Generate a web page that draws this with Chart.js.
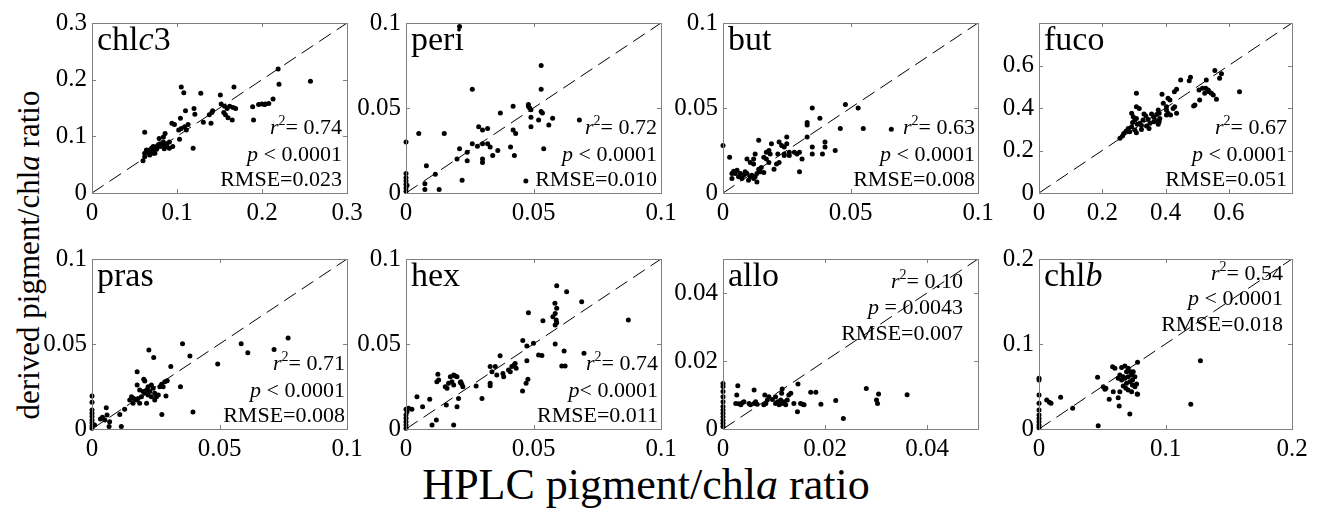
<!DOCTYPE html>
<html>
<head>
<meta charset="utf-8">
<script src="https://cdn.jsdelivr.net/npm/chart.js@4.4.1/dist/chart.umd.min.js"></script>
<style>
body { margin: 0; background: #fff; width: 1320px; height: 510px; position: relative; overflow: hidden;
       font-family: "Liberation Serif", "Times New Roman", serif; color: #000; }
canvas { position: absolute; }
#ytitle { position: absolute; left: 29px; top: 255px; transform: translate(-50%, -50%) rotate(-90deg);
          font-size: 31px; white-space: nowrap; color: #000; -webkit-font-smoothing: antialiased; }
#xtitle { position: absolute; left: 646px; top: 484px; transform: translate(-50%, -50%);
          font-size: 44px; white-space: nowrap; color: #000; }
</style>
</head>
<body>
<div id="ytitle">derived pigment/chl<i>a</i> ratio</div>
<div id="xtitle">HPLC pigment/chl<i>a</i> ratio</div>
<script>
// [HPLC ratio, derived ratio]
const chlc3Data = [[0.105,0.187],[0.108,0.177],[0.128,0.176],[0.151,0.173],[0.167,0.187],
  [0.152,0.157],[0.156,0.153],[0.159,0.149],[0.162,0.153],[0.166,0.151],[0.169,0.149],[0.155,0.142],[0.157,0.138],[0.160,0.133],[0.165,0.129],
  [0.120,0.149],[0.121,0.139],[0.110,0.145],[0.138,0.138],[0.141,0.142],[0.142,0.145],[0.131,0.125],[0.140,0.123],
  [0.104,0.132],[0.094,0.123],[0.097,0.121],[0.113,0.121],[0.109,0.117],[0.111,0.111],[0.105,0.114],[0.102,0.111],
  [0.062,0.107],[0.079,0.096],[0.086,0.105],[0.084,0.099],[0.103,0.095],[0.119,0.079],
  [0.091,0.090],[0.088,0.087],[0.084,0.090],[0.080,0.087],[0.076,0.082],[0.072,0.082],[0.068,0.076],[0.064,0.076],[0.062,0.070],[0.068,0.070],
  [0.072,0.076],[0.076,0.077],[0.080,0.082],[0.084,0.085],[0.088,0.082],[0.091,0.079],[0.095,0.082],[0.062,0.064],[0.060,0.057],[0.068,0.067],
  [0.072,0.070],[0.066,0.072],[0.070,0.079],[0.074,0.070],[0.078,0.085],[0.085,0.078],
  [0.189,0.152],[0.196,0.156],[0.203,0.156],[0.190,0.129],[0.219,0.219],[0.220,0.192],[0.257,0.197],[0.213,0.166],[0.208,0.158],[0.204,0.157],[0.200,0.157]];
const periData = [[0.021,0.098],[0.053,0.075],[0.026,0.061],[0.053,0.061],[0.005,0.035],[0,0.030],[0.015,0.035],[0.037,0.047],[0.042,0.051],
  [0.048,0.051],[0.0485,0.050],[0.048,0.052],[0.049,0.049],[0.053,0.048],[0.0535,0.047],[0.049,0.0445],[0.052,0.043],[0.049,0.039],[0.056,0.040],[0.0575,0.044],
  [0.0285,0.039],[0.032,0.038],[0.042,0.037],[0.043,0.035],[0.041,0.027],[0.0425,0.022],[0.054,0.026],[0.068,0.043],
  [0.030,0.037],[0.026,0.029],[0.028,0.0275],[0.030,0.029],[0.032,0.029],[0.033,0.027],[0.034,0.022],[0.036,0.025],[0.030,0.020],[0.030,0.018],
  [0.024,0.019],[0.021,0.026],[0.020,0.020],[0.024,0.024],[0.022,0.0075],[0.008,0.016],[0.0115,0.011],[0.0074,0.0055],[0.0074,0.002],[0.013,0.002],[0.047,0.007],
  [0,0.0114],[0,0.009],[0,0.007],[0,0.005],[0,0.003],[0,0.001],[0.0004,0.0045]];
const butData = [[0,0.028],[0.035,0.050],[0.048,0.052],[0.053,0.050],[0.038,0.044],[0.033,0.0415],[0.033,0.040],[0.046,0.038],[0.055,0.038],[0.066,0.0375],
  [0.033,0.033],[0.035,0.027],[0.035,0.023],[0.040,0.030],[0.040,0.027],[0.039,0.023],[0.044,0.025],[0.030,0.0125],[0.031,0.020],
  [0.028,0.024],[0.029,0.023],[0.030,0.024],[0.026,0.024],[0.025,0.033],[0.025,0.029],[0.024,0.027],[0.024,0.023],[0.024,0.022],[0.026,0.022],
  [0.022,0.030],[0.023,0.028],[0.0215,0.023],[0.022,0.018],[0.020,0.014],[0.021,0.017],
  [0.019,0.029],[0.018,0.025],[0.0185,0.023],[0.017,0.024],[0.017,0.020],[0.018,0.018],[0.016,0.021],[0.014,0.031],[0.012,0.020],[0.0126,0.023],
  [0.0094,0.020],[0.0107,0.018],[0.012,0.017],[0.014,0.014],[0.0146,0.0125],[0.0133,0.0115],[0.016,0.012],[0.015,0.015],
  [0.0035,0.0085],[0.0035,0.0115],[0.0055,0.0134],[0.0068,0.0115],[0.0081,0.0105],[0.0094,0.0115],[0.0107,0.0095],[0.012,0.0085],[0.0133,0.0065],
  [0.0061,0.0095],[0.0074,0.0085],[0.0087,0.0125],[0.010,0.0075],[0.0113,0.0105],[0.0126,0.0095],[0.0048,0.0115],[0.0026,0.021],[0.0042,0.0128]];
const fucoData = [[0.308,0.469],[0.389,0.465],[0.448,0.532],[0.475,0.528],[0.479,0.545],[0.435,0.488],[0.428,0.476],[0.506,0.485],[0.556,0.576],
  [0.577,0.561],[0.571,0.540],[0.529,0.532],[0.634,0.477],
  [0.517,0.493],[0.527,0.493],[0.535,0.485],[0.545,0.469],[0.551,0.461],[0.561,0.441],[0.538,0.477],[0.524,0.469],[0.508,0.438],[0.493,0.414],[0.489,0.409],
  [0.408,0.446],[0.414,0.438],[0.393,0.422],[0.403,0.406],[0.377,0.391],[0.372,0.370],[0.380,0.375],[0.435,0.375],[0.308,0.406],[0.317,0.398],
  [0.293,0.375],[0.298,0.359],[0.303,0.343],[0.296,0.332],[0.308,0.351],[0.311,0.324],[0.319,0.328],[0.293,0.312],[0.282,0.304],[0.275,0.291],
  [0.268,0.280],[0.264,0.268],[0.256,0.258],[0.287,0.288],[0.303,0.296],[0.308,0.283],[0.324,0.299],[0.340,0.315],[0.351,0.328],[0.363,0.335],
  [0.345,0.346],[0.338,0.362],[0.332,0.372],[0.356,0.372],[0.363,0.356],[0.372,0.340],[0.382,0.351],[0.329,0.343],[0.324,0.318],[0.348,0.304],
  [0.377,0.324],[0.380,0.335],[0.403,0.391],[0.408,0.375],[0.416,0.367],[0.424,0.398],[0.429,0.406],[0.403,0.367]];
const prasData = [[0,0.0194],[0,0.0157],[0,0.0112],[0,0.0092],[0,0.0073],[0,0.0053],[0,0.0037],[0,0.0018],[0,0.0004],[0.001,0.0024],
  [0.0033,0.0059],[0.0041,0.0069],[0.0056,0.0125],[0.0059,0.0082],[0.005,0.0053],[0.0069,0.0043],[0.0067,0.0014],[0.0109,0.0086],[0.0115,0.0014],[0.0128,0.0116],
  [0.0223,0.0465],[0.0242,0.042],[0.0355,0.0502],[0.0384,0.0429],[0.0309,0.0367],[0.0493,0.0382],[0.0585,0.0502],[0.0611,0.0449],[0.0714,0.0467],[0.0769,0.0535],
  [0.0347,0.0249],[0.0396,0.010],[0.0274,0.0086],[0.029,0.0194],
  [0.0177,0.0337],[0.0203,0.0292],[0.0207,0.0282],[0.0177,0.0259],[0.0187,0.0229],[0.0273,0.0263],[0.0286,0.0278],[0.0295,0.0284],[0.0279,0.0249],[0.0266,0.0249],
  [0.022,0.0249],[0.0233,0.0259],[0.024,0.0239],[0.0227,0.022],[0.0246,0.021],[0.0253,0.019],[0.0214,0.0229],[0.0201,0.022],[0.0207,0.021],[0.0194,0.019],
  [0.0181,0.018],[0.0174,0.0171],[0.0161,0.0151],[0.0148,0.0171],[0.0155,0.019],[0.0164,0.018],[0.0187,0.0151],[0.0214,0.0151],[0.022,0.020],[0.0233,0.019],
  [0.026,0.020],[0.0246,0.0171]];
const hexData = [[0.0591,0.0843],[0.063,0.0808],[0.0689,0.0749],[0.0584,0.0739],[0.0591,0.071],[0.0585,0.068],[0.0576,0.0661],[0.0591,0.0625],[0.0585,0.0612],
  [0.0589,0.0641],[0.048,0.0684],[0.0537,0.0637],[0.0872,0.0641],
  [0.0585,0.050],[0.050,0.0504],[0.0458,0.052],[0.0474,0.0488],[0.052,0.0435],[0.0533,0.0433],[0.062,0.0459],[0.0698,0.0445],[0.0611,0.0371],[0.0624,0.0371],
  [0.0474,0.0402],[0.0369,0.0431],
  [0.033,0.0367],[0.035,0.0367],[0.0337,0.0337],[0.033,0.0269],[0.033,0.0255],[0.0356,0.0318],[0.0383,0.0308],[0.038,0.0327],[0.0409,0.0337],[0.0415,0.0367],
  [0.0428,0.0386],[0.0432,0.0357],[0.0424,0.0376],[0.0402,0.0347],
  [0.0478,0.0292],[0.0471,0.0269],[0.0457,0.0224],[0.0298,0.018],[0.0275,0.0253],
  [0.0125,0.0322],[0.0121,0.0278],[0.0128,0.0288],[0.0174,0.0308],[0.018,0.0278],[0.0187,0.0259],[0.0193,0.0312],[0.0187,0.0318],[0.0154,0.0249],[0.0161,0.0239],
  [0.0167,0.0269],[0.020,0.0308],[0.0215,0.0278],[0.0219,0.0263],[0.0223,0.0249],[0.0213,0.0273],
  [0.0158,0.0141],[0.0206,0.018],[0.020,0.0131],[0.0187,0.0024],[0.0119,0.0053],[0.0102,0.0024],[0.0093,0.0175],[0.0043,0.019],[0.0065,0.0131],[0.0023,0.0116],
  [0.001,0.0122],[0.0004,0.0102],[0,0.0082],[0,0.0063],[0,0.0043],[0,0.0024],[0,0.0004],[0,0.0116]];
const alloData = [[0,0.0134],[0,0.0125],[0,0.011],[0,0.0095],[0,0.008],[0,0.0066],[0,0.0056],[0,0.0046],[0,0.0036],[0,0.0026],[0,0.0017],[0,0.0007],
  [0.0029,0.0127],[0.0027,0.010],[0.0025,0.0075],[0.0031,0.0074],[0.0038,0.0077],[0.0035,0.0071],[0.0041,0.008],
  [0.0061,0.0115],[0.0051,0.0075],[0.0061,0.0075],[0.0067,0.0073],[0.0054,0.0071],[0.0064,0.008],
  [0.0082,0.010],[0.0087,0.0085],[0.0084,0.0075],[0.009,0.0095],[0.008,0.0071],
  [0.0103,0.0095],[0.0107,0.008],[0.011,0.0071],[0.0103,0.0075],[0.0113,0.0085],[0.0116,0.0075],[0.012,0.008],[0.0097,0.0087],
  [0.0116,0.0118],[0.0115,0.0105],[0.0129,0.010],[0.0133,0.0105],[0.0126,0.0085],[0.0123,0.0071],[0.0139,0.0075],[0.0147,0.0132],[0.0146,0.0051],
  [0.0152,0.0075],[0.0159,0.0071],[0.0156,0.0073],
  [0.0172,0.0108],[0.0182,0.0108],[0.0192,0.0073],[0.0221,0.0084],[0.0236,0.0031],[0.0281,0.0119],[0.0301,0.0085],[0.0303,0.0075],[0.0305,0.0103],[0.0361,0.0101]];
const chlbData = [[0,0.0596],[0,0.0576],[0,0.040],[0,0.0302],[0,0.0224],[0,0.0165],[0,0.0125],[0,0.0086],[0,0.0047],[0,0.0016],
  [0.0061,0.0341],[0.0082,0.0314],[0.0095,0.0302],[0.0171,0.0373],[0.0266,0.0243],[0.0468,0.0039],[0.0463,0.0608],[0.0508,0.0498],[0.0521,0.0467],
  [0.0529,0.0478],[0.0555,0.0349],[0.0626,0.0369],
  [0.0582,0.0733],[0.060,0.0714],[0.0653,0.0725],[0.0679,0.0741],[0.0705,0.0714],[0.0724,0.0675],[0.0692,0.0675],[0.0666,0.0616],[0.0639,0.0635],
  [0.0626,0.0596],[0.0653,0.0576],[0.0679,0.0596],[0.0705,0.0616],[0.0732,0.0635],[0.0745,0.0675],[0.0758,0.0616],[0.0739,0.0576],[0.0718,0.0557],
  [0.0692,0.0537],[0.0666,0.0506],[0.0687,0.0478],[0.0739,0.0518],[0.0758,0.0498],[0.0771,0.0529],[0.0587,0.0439],[0.0639,0.0439],[0.0705,0.0459],
  [0.0732,0.0439],[0.0776,0.0412],
  [0.0634,0.0271],[0.0718,0.0176],[0.0779,0.0784],[0.0779,0.0408],[0.1276,0.0804],[0.120,0.029]];

const panelNames = ['chl<i>c</i>3', 'peri', 'but', 'fuco', 'pras', 'hex', 'allo', 'chl<i>b</i>'];
const panelData = [chlc3Data, periData, butData, fucoData, prasData, hexData, alloData, chlbData];
const axisMax = [0.3, 0.1, 0.1, 0.8, 0.1, 0.1, 0.05, 0.2];
const tickValues = [[0, 0.1, 0.2, 0.3], [0, 0.05, 0.1], [0, 0.05, 0.1], [0, 0.2, 0.4, 0.6],
                    [0, 0.05, 0.1], [0, 0.05, 0.1], [0, 0.02, 0.04], [0, 0.1, 0.2]];
const r2Values = ['0.74', '0.72', '0.63', '0.67', '0.71', '0.74', '0.10', '0.54'];
const pValues = [' < 0.0001', ' < 0.0001', ' < 0.0001', ' < 0.0001', ' < 0.0001', '< 0.0001', ' = 0.0043', ' < 0.0001'];
const rmseValues = ['0.023', '0.010', '0.008', '0.051', '0.008', '0.011', '0.007', '0.018'];

// layout (chart area of each panel, in page pixels)
const colLeft = [92, 406, 723, 1039];
const colRight = [347, 661, 978, 1292];
const rowTop = [23, 259];
const rowBottom = [193, 429];
const PAD_L = 70, PAD_T = 20, PAD_R = 25, PAD_B = 45;
const statsInset = [5, 4, 3, 5, 2, 3, 15, 9];
const statsAtTop = [false, false, false, false, false, false, true, true];

const SERIF = '"Liberation Serif", "Times New Roman", Times, serif';
Chart.defaults.font.family = SERIF;
Chart.defaults.color = '#000';

function fmt(v) {
  return String(Number(v.toFixed(3)));
}

function parseRich(html) {
  return html.split(/(<i>.*?<\/i>)/).filter(s => s).map(s => {
    const m = s.match(/^<i>(.*)<\/i>$/);
    return m ? { t: m[1], it: true } : { t: s };
  });
}

function segFont(seg, size) {
  return (seg.it ? 'italic ' : '') + (seg.sup ? Math.round(size * 0.62) : size) + 'px ' + SERIF;
}

function drawRich(ctx, segs, x, y, size, align) {
  let total = 0;
  segs.forEach(s => { ctx.font = segFont(s, size); total += ctx.measureText(s.t).width; });
  let cx = align === 'right' ? x - total : x;
  segs.forEach(s => {
    ctx.font = segFont(s, size);
    ctx.fillText(s.t, cx, s.sup ? y - size * 0.42 : y);
    cx += ctx.measureText(s.t).width;
  });
}

const framePlugin = {
  id: 'frame',
  afterDatasetsDraw(chart) {
    const { ctx, chartArea: a, scales } = chart;
    const i = chart.options.plugins.frame.index;
    ctx.save();
    ctx.strokeStyle = '#808080';
    ctx.lineWidth = 1;
    ctx.beginPath();
    scales.x.ticks.forEach(t => {
      const px = Math.round(scales.x.getPixelForValue(t.value)) + 0.5;
      ctx.moveTo(px, a.bottom); ctx.lineTo(px, a.bottom - 4);
      ctx.moveTo(px, a.top); ctx.lineTo(px, a.top + 4);
    });
    scales.y.ticks.forEach(t => {
      const py = Math.round(scales.y.getPixelForValue(t.value)) + 0.5;
      ctx.moveTo(a.left, py); ctx.lineTo(a.left + 4, py);
      ctx.moveTo(a.right, py); ctx.lineTo(a.right - 4, py);
    });
    ctx.stroke();
    ctx.strokeRect(Math.round(a.left) + 0.5, Math.round(a.top) + 0.5, Math.round(a.right - a.left), Math.round(a.bottom - a.top));

    ctx.fillStyle = '#000';
    ctx.textBaseline = 'alphabetic';
    drawRich(ctx, parseRich(panelNames[i]), a.left + 5, a.top + 27, 34, 'left');

    const lines = [
      [{ t: 'r', it: true }, { t: '2', sup: true }, { t: '= ' + r2Values[i] }],
      [{ t: 'p', it: true }, { t: pValues[i] }],
      [{ t: 'RMSE=' + rmseValues[i] }]
    ];
    const xr = a.right - statsInset[i];
    const base = statsAtTop[i]
      ? (i === 7 ? [a.top + 21, a.top + 46, a.top + 72] : [a.top + 29, a.top + 55, a.top + 81])
      : [a.bottom - 59, a.bottom - 32, a.bottom - 7];
    lines.forEach((segs, k) => drawRich(ctx, segs, xr, base[k], 22, 'right'));
    ctx.restore();
  }
};

panelData.forEach((data, i) => {
  const col = i % 4, row = Math.floor(i / 4);
  const L = colLeft[col], R = colRight[col], T = rowTop[row], B = rowBottom[row];
  const canvas = document.createElement('canvas');
  canvas.width = (R - L) + PAD_L + PAD_R;
  canvas.height = (B - T) + PAD_T + PAD_B;
  canvas.style.left = (L - PAD_L) + 'px';
  canvas.style.top = (T - PAD_T) + 'px';
  document.body.appendChild(canvas);

  const m = axisMax[i];
  const ticks = tickValues[i];
  const axis = () => ({
    type: 'linear', min: 0, max: m,
    grid: { display: false, drawTicks: false },
    border: { display: false },
    afterBuildTicks: s => { s.ticks = ticks.map(v => ({ value: v })); }
  });
  const tickFont = { family: SERIF, size: 25 };

  new Chart(canvas, {
    type: 'scatter',
    data: {
      datasets: [{
        data: data.map(d => ({ x: d[0], y: d[1] })),
        pointRadius: 2.5,
        pointBackgroundColor: '#000',
        pointBorderWidth: 0,
        clip: false
      }, {
        data: [{ x: 0, y: 0 }, { x: m, y: m }],
        showLine: true,
        borderColor: '#000',
        borderWidth: 1,
        borderDash: [14, 7],
        pointRadius: 0
      }]
    },
    options: {
      responsive: false,
      animation: false,
      layout: { padding: { top: PAD_T, right: PAD_R, left: 0, bottom: 0 } },
      plugins: { legend: { display: false }, tooltip: { enabled: false }, frame: { index: i } },
      scales: {
        x: Object.assign(axis(), {
          afterFit: s => { s.height = PAD_B; },
          ticks: { font: tickFont, color: '#000', padding: 5, maxRotation: 0, autoSkip: false, callback: v => fmt(v) }
        }),
        y: Object.assign(axis(), {
          afterFit: s => { s.width = PAD_L; },
          ticks: { font: tickFont, color: '#000', padding: 5, autoSkip: false, callback: v => fmt(v) }
        })
      }
    },
    plugins: [framePlugin]
  });
});
</script>
</body>
</html>
